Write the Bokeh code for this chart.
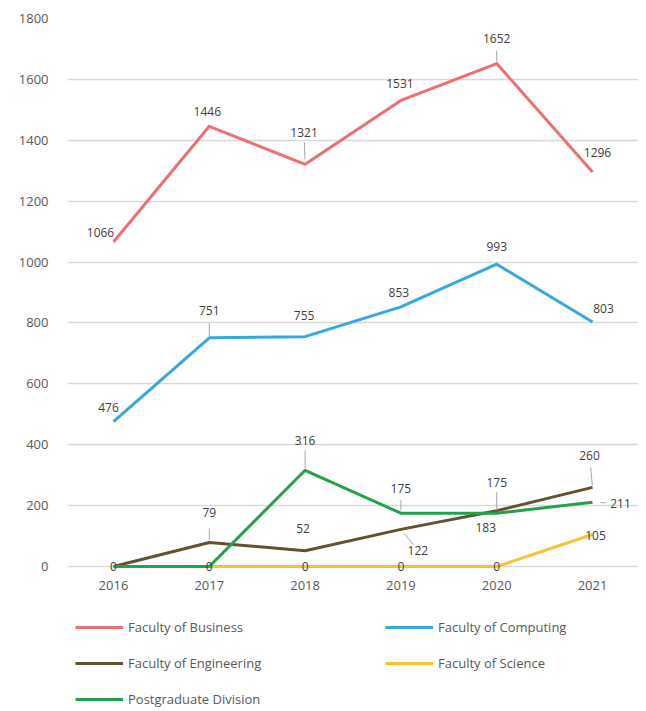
import math
from bokeh.plotting import figure
from bokeh.layouts import column
from bokeh.models import ColumnDataSource, Legend, LegendItem, FixedTicker
from bokeh.core.properties import value
from bokeh.embed import file_html
from bokeh.resources import INLINE

# ---------------- data ----------------
years = [2016, 2017, 2018, 2019, 2020, 2021]
business = [1066, 1446, 1321, 1531, 1652, 1296]
computing = [476, 751, 755, 853, 993, 803]
engineering = [0, 79, 52, 122, 183, 260]
science = [float("nan"), 0, 0, 0, 0, 105]
postgraduate = [0, 0, 316, 175, 175, 211]
y_ticks = [0, 200, 400, 600, 800, 1000, 1200, 1400, 1600, 1800]
series_names = ["Faculty of Business", "Faculty of Computing",
                "Faculty of Engineering", "Faculty of Science",
                "Postgraduate Division"]

# ---------------- styles ----------------
colors = ["#EE6F6F", "#35A9DE", "#65512E", "#F8C22C", "#23A24B"]
FONT = "Open Sans"

# data-label pixel offsets (dx, dy; dy down) per series, None = no label
label_offsets = [
    [(-13, -9), (-2, -15), (-1, -32), (-1, -17), (0, -25), (5, -19)],
    [(-5, -14), (0, -27), (-1, -21), (-2, -14), (0, -18), (11, -14)],
    [(0, 0), (0, -30), (-2, -22), (17, 21), (-11, 17), (-3, -32)],
    [None, (0, 0), (0, 0), (0, 0), (0, 0), (3, 1)],
    [None, None, (0, -30), (0, -25), (0, -31), (28, 1)],
]
# leader lines: (series, index, gap from point px, gap from label px)
leaders = [(0, 2, 5, 10), (0, 4, 2, 12), (1, 1, 2, 12), (2, 1, 2, 16),
           (2, 3, 5, 7), (2, 5, 2, 12), (4, 2, 2, 10), (4, 3, 3, 12),
           (4, 4, 3, 10), (4, 5, 8, 15)]

W = 638
H1, H2 = 606, 105
LEFT, RIGHT, TOP = 67, 0, 18
FRAME_H = 558
BOTTOM = H1 - TOP - FRAME_H
FRAME_W = W - LEFT - RIGHT
X_PAD = 0.48
x0, x1 = years[0] - X_PAD, years[-1] + X_PAD
px_per_year = FRAME_W / (x1 - x0)
px_per_unit = (FRAME_H - 10) / y_ticks[-1]
y0 = -10 / px_per_unit

p = figure(width=W, height=H1, x_range=(x0, x1), y_range=(y0, y_ticks[-1]),
           output_backend="svg", toolbar_location=None,
           min_border_left=LEFT, min_border_right=RIGHT,
           min_border_top=TOP, min_border_bottom=BOTTOM)
p.outline_line_color = None
p.background_fill_color = "white"
p.border_fill_color = "white"

p.xgrid.grid_line_color = None
p.ygrid.ticker = FixedTicker(ticks=y_ticks)
p.ygrid.grid_line_color = "#D9D9D9"
p.ygrid.grid_line_width = 1.5

p.yaxis.ticker = FixedTicker(ticks=y_ticks)
p.xaxis.ticker = FixedTicker(ticks=years)
for ax in (p.xaxis, p.yaxis):
    ax.axis_line_color = None
    ax.major_tick_line_color = None
    ax.minor_tick_line_color = None
    ax.major_tick_out = 0
    ax.major_tick_in = 0
    ax.major_label_text_font = FONT
    ax.major_label_text_font_size = "13px"
    ax.major_label_text_color = "#595959"
p.yaxis.major_label_standoff = 19
p.xaxis.major_label_standoff = 4

all_series = [business, computing, engineering, science, postgraduate]
for vals, col in zip(all_series, colors):
    p.line(years, vals, line_color=col, line_width=3, line_join="round")

# data labels
lx, ly, lt, ldx, ldy = [], [], [], [], []
for s, vals in enumerate(all_series):
    for i, v in enumerate(vals):
        off = label_offsets[s][i]
        if off is None or (isinstance(v, float) and math.isnan(v)):
            continue
        lx.append(years[i]); ly.append(v); lt.append(str(int(v)))
        ldx.append(off[0]); ldy.append(off[1])

# leader segments
sx0, sy0, sx1, sy1 = [], [], [], []
for s, i, g0, g1 in leaders:
    dx, dy = label_offsets[s][i]
    L = math.hypot(dx, dy)
    ux, uy = dx / L, dy / L
    a = (ux * g0, uy * g0)
    b = (dx - ux * g1, dy - uy * g1)
    xv, yv = years[i], all_series[s][i]
    sx0.append(xv + a[0] / px_per_year); sy0.append(yv - a[1] / px_per_unit)
    sx1.append(xv + b[0] / px_per_year); sy1.append(yv - b[1] / px_per_unit)
p.segment(sx0, sy0, sx1, sy1, line_color="#A6A6A6", line_width=1)

src = ColumnDataSource(dict(x=lx, y=ly, t=lt, dx=ldx, dy=ldy))
p.text(x="x", y="y", text="t", x_offset="dx", y_offset="dy", source=src,
       text_align="center", text_baseline="middle",
       text_font=value(FONT), text_font_size="12px", text_color="#404040")

# ---------------- legend strip (frame aligned with the chart frame) ----------------
pl = figure(width=W, height=H2, x_range=(0, 1), y_range=(0, 1),
            x_axis_type=None, y_axis_type=None,
            output_backend="svg", toolbar_location=None,
            min_border_left=LEFT, min_border_right=RIGHT,
            min_border_top=0, min_border_bottom=0)
pl.outline_line_color = None
pl.grid.visible = False
# same series drawn outside this strip's ranges: only their legend swatches show
legend_renderers = [pl.line(years, vals, line_color=c, line_width=3)
                    for vals, c in zip(all_series, colors)]

legend = Legend(
    items=[LegendItem(label=n, renderers=[r]) for n, r in zip(series_names, legend_renderers)],
    location=(8, 0), orientation="horizontal", ncols=2,
    glyph_width=48, glyph_height=24, label_height=24, label_width=245,
    label_standoff=5, spacing=12, padding=0, margin=0,
    border_line_color=None, background_fill_alpha=0,
    label_text_font=FONT, label_text_font_size="13px", label_text_color="#595959")
pl.add_layout(legend)

layout = column(p, pl, spacing=0)
open("out.html", "w").write(file_html(layout, INLINE))
